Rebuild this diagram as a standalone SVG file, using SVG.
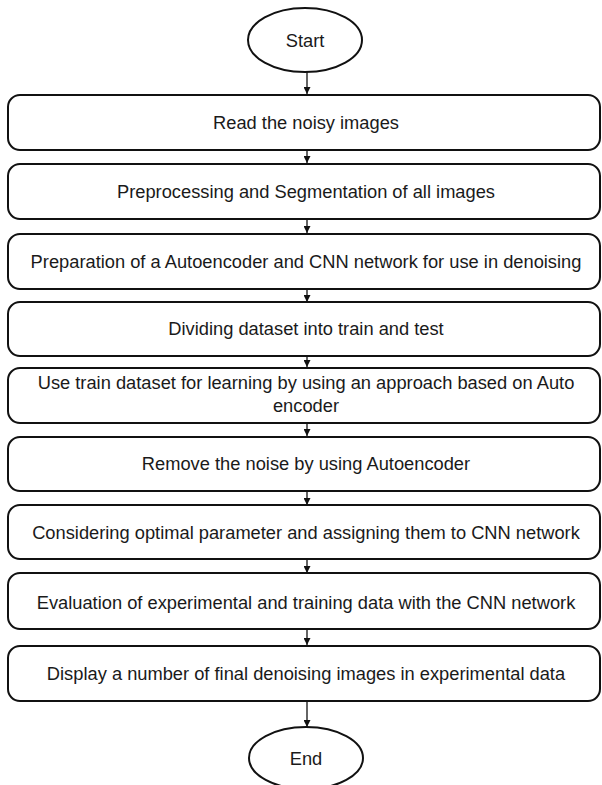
<svg xmlns="http://www.w3.org/2000/svg" width="602" height="785" viewBox="0 0 602 785">
<defs>
<style>
.box{fill:#fff;stroke:#111;stroke-width:2}
.t{font-family:"Liberation Sans",Arial,sans-serif;font-size:18.3px;fill:#1a1a1a;text-anchor:middle}
.c{stroke:#111;stroke-width:1.3;fill:none;marker-end:url(#ah)}
</style>
<marker id="ah" viewBox="0 0 10 10" refX="10" refY="5" markerWidth="7" markerHeight="7" markerUnits="userSpaceOnUse" orient="auto"><path d="M0,0 L10,5 L0,10 z" fill="#111"/></marker>
</defs>
<rect width="602" height="785" fill="#fff"/>
<g id="connectors">
<line class="c" x1="307" y1="72" x2="307" y2="94"/>
<line class="c" x1="307" y1="150" x2="307" y2="163"/>
<line class="c" x1="307" y1="219" x2="307" y2="233"/>
<line class="c" x1="307" y1="289" x2="307" y2="302"/>
<line class="c" x1="307" y1="356" x2="307" y2="367"/>
<line class="c" x1="307" y1="423" x2="307" y2="436"/>
<line class="c" x1="307" y1="491" x2="307" y2="505"/>
<line class="c" x1="307" y1="559" x2="307" y2="573"/>
<line class="c" x1="307" y1="629" x2="307" y2="645"/>
<line class="c" x1="307" y1="701" x2="307" y2="727"/>
</g>
<g id="start"><ellipse class="box" cx="305" cy="40" rx="57" ry="32"/><text class="t" x="305" y="47">Start</text></g>
<g id="n1"><rect class="box" x="8" y="95" width="592" height="55" rx="12"/><text class="t" x="306" y="129">Read the noisy images</text></g>
<g id="n2"><rect class="box" x="8" y="164" width="592" height="55" rx="12"/><text class="t" x="306" y="198">Preprocessing and Segmentation of all images</text></g>
<g id="n3"><rect class="box" x="8" y="234" width="592" height="55" rx="12"/><text class="t" x="306" y="268">Preparation of a Autoencoder and CNN network for use in denoising</text></g>
<g id="n4"><rect class="box" x="8" y="302" width="592" height="54" rx="12"/><text class="t" x="306" y="335">Dividing dataset into train and test</text></g>
<g id="n5"><rect class="box" x="8" y="368" width="592" height="55" rx="12"/><text class="t" x="306" y="389">Use train dataset for learning by using an approach based on Auto</text><text class="t" x="306" y="412">encoder</text></g>
<g id="n6"><rect class="box" x="8" y="437" width="592" height="54" rx="12"/><text class="t" x="306" y="470">Remove the noise by using Autoencoder</text></g>
<g id="n7"><rect class="box" x="8" y="505" width="592" height="54" rx="12"/><text class="t" x="306" y="539">Considering optimal parameter and assigning them to CNN network</text></g>
<g id="n8"><rect class="box" x="8" y="573" width="592" height="56" rx="12"/><text class="t" x="306" y="609">Evaluation of experimental and training data with the CNN network</text></g>
<g id="n9"><rect class="box" x="8" y="646" width="592" height="55" rx="12"/><text class="t" x="306" y="680">Display a number of final denoising images in experimental data</text></g>
<g id="end"><ellipse class="box" cx="306" cy="758" rx="57" ry="31"/><text class="t" x="306" y="765">End</text></g>
</svg>
